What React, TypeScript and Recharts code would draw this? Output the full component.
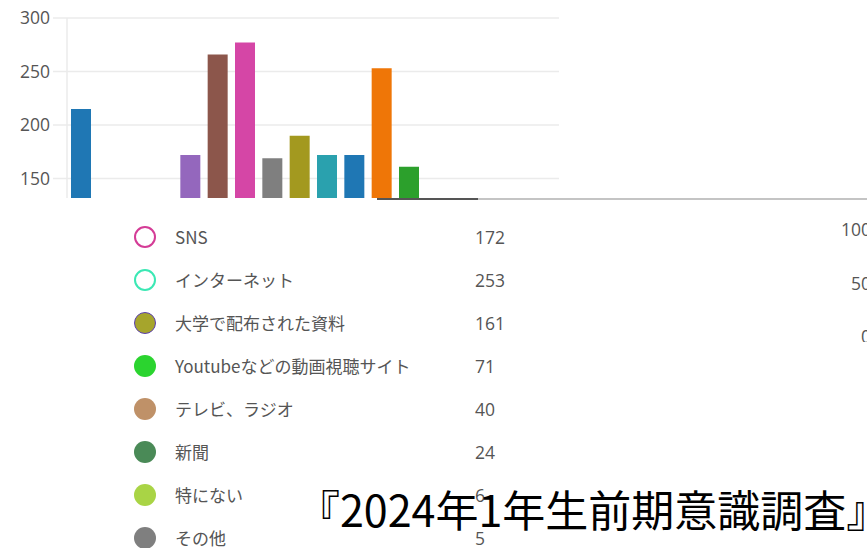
import { BarChart, Bar, XAxis, YAxis, CartesianGrid, Cell } from 'recharts';

// Bar chart (top part, cropped at the bottom)
const categories = [
  '項目1', '項目2', '項目3', '項目4', '項目5', '項目6', '項目7', '項目8', '項目9',
  '項目10', 'SNS', 'インターネット', '大学で配布された資料', 'Youtubeなどの動画視聴サイト',
  'テレビ、ラジオ', '新聞', '特にない', 'その他',
];
const counts = [215, 120, 105, 98, 172, 266, 277, 169, 190, 172, 172, 253, 161, 71, 40, 24, 6, 5];
const barColors = [
  '#1f77b4', '#ef7607', '#2ca02c', '#d62728', '#9467bd', '#8c564b', '#d546a6', '#7f7f7f',
  '#a3991f', '#2aa1ae', '#1f77b4', '#ef7607', '#2ca02c', '#d62728', '#9467bd', '#8c564b',
  '#d546a6', '#7f7f7f',
];
const yTicks = [0, 50, 100, 150, 200, 250, 300];

// Legend list (lower part)
const legendLabels = [
  'SNS', 'インターネット', '大学で配布された資料', 'Youtubeなどの動画視聴サイト',
  'テレビ、ラジオ', '新聞', '特にない', 'その他',
];
const legendValues = [172, 253, 161, 71, 40, 24, 6, 5];
const legendFill = ['#ffffff', '#ffffff', '#a6a52c', '#2bd42f', '#bf9168', '#4a8a57', '#a9d445', '#7f7f7f'];
const legendStroke = ['#d43c96', '#3be8b4', '#5a3fb0', '#2bd42f', '#bf9168', '#4a8a57', '#a9d445', '#7f7f7f'];

// Partial axis of a second chart at the right edge
const rightTicks = [0, 50, 100];

const chartData = categories.map((name, i) => ({ name, value: counts[i] }));

const tickStyle = { fill: '#555', fontSize: 17.5, fontFamily: 'Open Sans' };

export default function App() {
  return (
    <div
      style={{
        position: 'fixed',
        left: 0,
        top: 0,
        width: 867,
        height: 548,
        overflow: 'hidden',
        background: '#fff',
      }}
    >
      {/* legend list */}
      {legendLabels.map((label, i) => {
        const cy = 237 + i * 43;
        const ring = legendFill[i] === '#ffffff';
        return (
          <div key={label}>
            <div
              style={{
                position: 'absolute',
                left: 134,
                top: cy - 11,
                width: ring ? 18 : 22,
                height: ring ? 18 : 22,
                borderRadius: '50%',
                background: legendFill[i],
                border: ring ? `2px solid ${legendStroke[i]}` : i === 2 ? `1.5px solid ${legendStroke[i]}` : 'none',
                boxSizing: i === 2 ? 'border-box' : 'content-box',
              }}
            />
            <div
              style={{
                position: 'absolute',
                left: 175,
                top: cy - 12,
                fontFamily: "'Noto Sans CJK JP'",
                fontSize: 17,
                lineHeight: '24px',
                color: '#555',
                whiteSpace: 'nowrap',
              }}
            >
              {label}
            </div>
            <div
              style={{
                position: 'absolute',
                left: 475,
                top: cy - 12,
                fontFamily: 'Open Sans',
                fontSize: 17.5,
                lineHeight: '24px',
                color: '#555',
              }}
            >
              {legendValues[i]}
            </div>
          </div>
        );
      })}

      {/* bar chart, cropped */}
      <div
        style={{
          position: 'absolute',
          left: 0,
          top: 0,
          width: 867,
          height: 198,
          overflow: 'hidden',
          background: '#fff',
        }}
      >
        <BarChart
          width={580}
          height={344}
          data={chartData}
          margin={{ top: 18, right: 21, left: 0, bottom: 5 }}
          barSize={20}
        >
          <CartesianGrid vertical={false} stroke='#ebebeb' strokeWidth={1.5} />
          <XAxis dataKey='name' hide />
          <YAxis
            width={67}
            domain={[0, 300]}
            ticks={yTicks}
            interval={0}
            tick={tickStyle}
            tickSize={14}
            tickMargin={3}
            tickLine={{ stroke: '#ebebeb', strokeWidth: 1.5 }}
            axisLine={{ stroke: '#ebebeb', strokeWidth: 1.5 }}
          />
          <Bar dataKey='value' isAnimationActive={false}>
            {chartData.map((d, i) => (
              <Cell key={d.name} fill={barColors[i]} />
            ))}
          </Bar>
        </BarChart>
      </div>

      {/* separator lines */}
      <div style={{ position: 'absolute', left: 377, top: 198, width: 101, height: 2, background: '#555' }} />
      <div style={{ position: 'absolute', left: 478, top: 198, width: 389, height: 2, background: '#c4c4c4' }} />

      {/* right edge partial axis */}
      <div style={{ position: 'absolute', left: 790, top: 0 }}>
        <BarChart width={120} height={342} data={chartData} margin={{ top: 230, right: 0, left: 0, bottom: 5 }}>
          <XAxis dataKey='name' hide />
          <YAxis
            width={81}
            domain={[0, 100]}
            allowDataOverflow
            ticks={rightTicks}
            interval={0}
            tick={tickStyle}
            tickSize={0}
            tickMargin={0}
            tickLine={false}
            axisLine={false}
          />
          <Bar dataKey='value' fill='#fff' fillOpacity={0} isAnimationActive={false} />
        </BarChart>
      </div>

      {/* caption */}
      <div
        style={{
          position: 'absolute',
          left: 297,
          top: 484,
          fontFamily: "'Noto Sans CJK JP'",
          fontSize: 43,
          lineHeight: '48px',
          color: '#000',
          whiteSpace: 'nowrap',
        }}
      >
        『2024年1年生前期意識調査』
      </div>
    </div>
  );
}
